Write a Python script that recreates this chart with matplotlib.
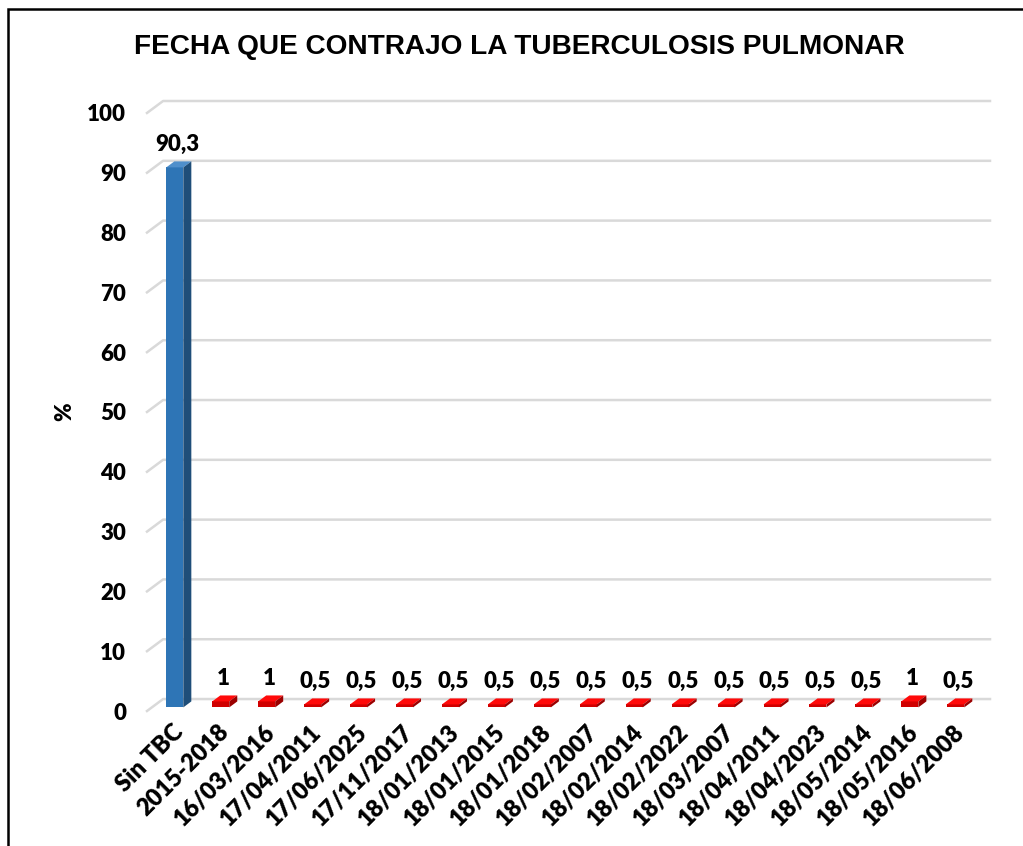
import numpy as np
import matplotlib
matplotlib.use('Agg')
import matplotlib.pyplot as plt
from matplotlib.patches import Polygon, Rectangle

plt.rcParams['font.family'] = ['Lato', 'DejaVu Sans']

categorias = ['Sin TBC', '2015-2018', '16/03/2016', '17/04/2011', '17/06/2025',
              '17/11/2017', '18/01/2013', '18/01/2015', '18/01/2018', '18/02/2007',
              '18/02/2014', '18/02/2022', '18/03/2007', '18/04/2011', '18/04/2023',
              '18/05/2014', '18/05/2016', '18/06/2008']
porcentajes = [90.3, 1, 1, 0.5, 0.5, 0.5, 0.5, 0.5, 0.5, 0.5, 0.5, 0.5, 0.5, 0.5, 0.5, 0.5, 1, 0.5]
etiquetas = ['90,3', '1', '1', '0,5', '0,5', '0,5', '0,5', '0,5', '0,5', '0,5',
             '0,5', '0,5', '0,5', '0,5', '0,5', '0,5', '1', '0,5']
yticks = list(range(0, 101, 10))

n = len(categorias)

# profundidad del efecto 3D (en unidades de datos)
dx, dy = 0.35, 2.0
w = 0.37          # ancho de barra
f0, f1 = 0.3, 0.8  # posicion de la barra en la profundidad
bd = f1 - f0

fig = plt.figure(figsize=(10.23, 8.46), dpi=100)
ax = fig.add_axes([147 / 1023, (846 - 711) / 846, (990 - 147) / 1023, (711 - 101) / 846])
ax.set_xlim(-0.5, n - 0.5 + dx)
ax.set_ylim(0, 100 + dy)
for s in ax.spines.values():
    s.set_visible(False)

# lineas de cuadricula en perspectiva
for v in yticks:
    ax.plot([-0.5, -0.5 + dx, n - 0.5 + dx], [v, v + dy, v + dy],
            color='#d9d9d9', lw=1.8, clip_on=False, zorder=0)

for i, val in enumerate(porcentajes):
    if i == 0:
        c_front, c_top, c_side = '#2E75B6', '#4F8FCB', '#1F4E79'
    else:
        c_front, c_top, c_side = '#D00000', '#FF0A0A', '#9A0000'
    x0 = i - w / 2 + f0 * dx
    y0 = f0 * dy
    ax.bar(x0, val, bottom=y0, width=w, align='edge', color=c_front, zorder=2)
    top = [(x0, y0 + val), (x0 + w, y0 + val),
           (x0 + w + bd * dx, y0 + val + bd * dy), (x0 + bd * dx, y0 + val + bd * dy)]
    side = [(x0 + w, y0), (x0 + w + bd * dx, y0 + bd * dy),
            (x0 + w + bd * dx, y0 + val + bd * dy), (x0 + w, y0 + val)]
    ax.add_patch(Polygon(top, closed=True, color=c_top, zorder=3, lw=0))
    ax.add_patch(Polygon(side, closed=True, color=c_side, zorder=3, lw=0))
    ax.annotate(etiquetas[i], (x0 + w / 2 + bd * dx / 2, y0 + val + bd * dy),
                xytext=(-1, 5), textcoords='offset points', ha='center', va='bottom',
                fontsize=16, fontweight='heavy', annotation_clip=False)

ax.set_yticks(yticks)
ax.set_yticklabels([str(v) for v in yticks], fontsize=16, fontweight='heavy')
ax.tick_params(axis='y', length=0, pad=15)
ax.set_xticks(np.arange(n) + 0.04)
ax.set_xticklabels(categorias, rotation=45, ha='right', rotation_mode='anchor',
                   fontsize=17, fontweight='heavy')
ax.tick_params(axis='x', length=0, pad=7)
ax.set_ylabel('%', fontsize=16, fontweight='heavy')
ax.yaxis.set_label_coords(-0.085, 0.49)

fig.text(0.508, 0.944, 'FECHA QUE CONTRAJO LA TUBERCULOSIS PULMONAR',
         ha='center', va='center', fontsize=20.2, fontweight='bold',
         family='Liberation Sans')

# marco del grafico
fig.patches.append(Rectangle((8 / 1023, -0.1), 1.2, 1 - 9 / 846 + 0.1,
                             transform=fig.transFigure, fill=False,
                             edgecolor='black', lw=1.8))

fig.savefig('out.png', dpi=100)
